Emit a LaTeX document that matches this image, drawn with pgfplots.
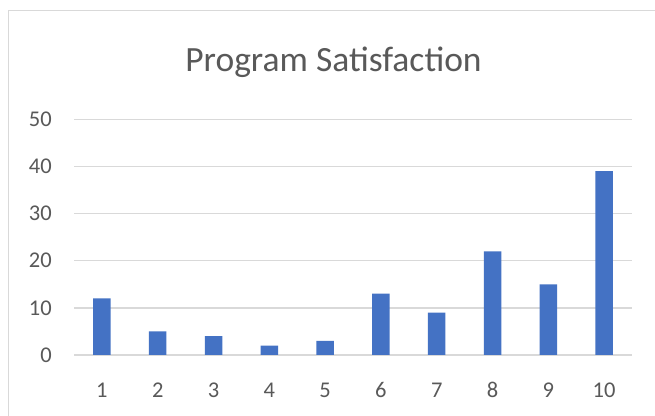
\documentclass[border=0pt]{standalone}
\usepackage{fontspec}
\setmainfont{Carlito}
\usepackage{pgfplots}
\pgfplotsset{compat=1.18}
\definecolor{barblue}{HTML}{4472C4}
\definecolor{gridgray}{HTML}{D9D9D9}
\definecolor{txtgray}{HTML}{595959}
\begin{document}
\begin{tikzpicture}
\useasboundingbox (0,0) rectangle (655bp,416bp);
\fill[white] (0,0) rectangle (655bp,416bp);
\draw[gridgray, line width=1.3bp] (8.5bp,0) -- (8.5bp,405.5bp) -- (655bp,405.5bp);
\node[anchor=base, text=txtgray, font=\fontsize{35.5bp}{40bp}\selectfont] at (333.5bp,344bp) {Program Satisfaction};
\begin{axis}[
  at={(74bp,61bp)}, anchor=south west,
  scale only axis, width=558bp, height=235.7bp,
  xmin=0.5, xmax=10.5, ymin=0, ymax=50,
  enlargelimits=false,
  xtick={1,...,10}, ytick={0,10,...,50},
  axis line style={draw=none},
  tick style={draw=none},
  ymajorgrids,
  grid style={gridgray, line width=1.3bp},
  /pgf/number format/assume math mode=true,
  ticklabel style={text=txtgray, font=\fontsize{22.5bp}{26bp}\selectfont},
  yticklabel style={anchor=east, inner sep=0pt, xshift=-22bp},
  xticklabel style={anchor=base, inner sep=0pt, yshift=-38bp},
  ybar, bar width=17.5bp,
]
\addplot[fill=barblue, draw=none] coordinates {
  (1,12) (2,5) (3,4) (4,2) (5,3) (6,13) (7,9) (8,22) (9,15) (10,39)
};
\end{axis}
\end{tikzpicture}
\end{document}
